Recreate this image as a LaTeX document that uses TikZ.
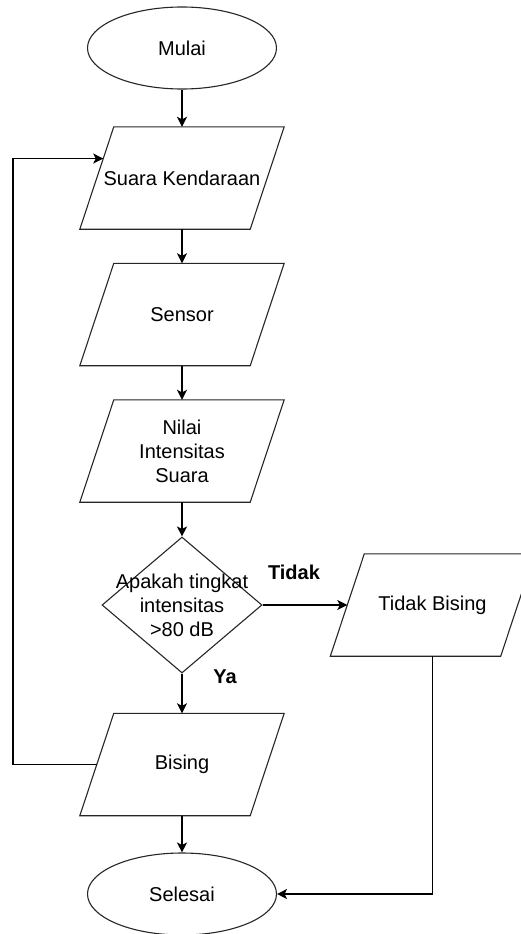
\documentclass[tikz,border=0pt]{standalone}
\usepackage{fontspec}
\setmainfont{Liberation Sans}
\usetikzlibrary{calc,shapes.geometric,arrows.meta}

\begin{document}
\begin{tikzpicture}[x=1pt,y=-1pt,
		forme/.style={draw=black!85, line width=1.1pt},
		texte/.style={font=\fontsize{20}{24}\selectfont, align=center},
		terminal/.style={forme, texte, ellipse, minimum width=189, minimum height=82, inner sep=0pt},
		donnee/.style={texte, minimum width=170, minimum height=102, inner sep=0pt},
		decision/.style={forme, diamond, minimum width=160, minimum height=136, inner sep=0pt},
		etiquette/.style={font=\fontsize{20}{24}\selectfont\bfseries},
		fleche/.style={line width=1.5pt, -{Stealth[length=10pt,width=10pt,inset=2.5pt]}}]
		% cadre de la figure (en pixels)
		\pgfmathsetmacro{\slant}{17} % decalage des cotes obliques
		\useasboundingbox (0,0) rectangle (521,934);

		% debut et fin
		\node[terminal] (mulai) at (182,48) {Mulai};
		\node[terminal] (selesai) at (182,894) {Selesai};

		% entrees / sorties : zones de texte, parallelogrammes dessines apres
		\node[donnee] (suara) at (182,178) {Suara Kendaraan};
		\node[donnee] (sensor) at (182,314.5) {Sensor};
		\node[donnee] (nilai) at (182,451) {Nilai\\Intensitas\\Suara};
		\node[donnee] (bising) at (182,764.5) {Bising};
		\node[donnee] (tidak) at (432.5,605) {Tidak Bising};

		% test
		\node[decision, label={[texte]center:Apakah tingkat\\intensitas\\>80 dB}] (test) at (182,605) {};

		% parallelogrammes autour des zones de texte
		\foreach \n in {suara,sensor,nilai,bising,tidak}{%
			\draw[forme] ([xshift=\slant]\n.north west) -- ([xshift=\slant]\n.north east)
				-- ([xshift=-\slant]\n.south east) -- ([xshift=-\slant]\n.south west) -- cycle;
		}

		% etiquettes des branches
		\node[etiquette] (lblTidak) at (294,572) {Tidak};
		\node[etiquette] (lblYa) at (225,677) {Ya};

		% fleches principales
		\draw[fleche] (mulai) -- (suara);
		\draw[fleche] (suara) -- (sensor);
		\draw[fleche] (sensor) -- (nilai);
		\draw[fleche] (nilai) -- (test);
		\draw[fleche] (test) -- (tidak);
		\draw[fleche] (test) -- (bising);
		\draw[fleche] (bising) -- (selesai);
		\draw[fleche] (tidak.south) |- (selesai.east);

		% retour vers l'entree
		\coordinate (entree) at ($([xshift=\slant]suara.north west)!0.31!([xshift=-\slant]suara.south west)$);
		\draw[fleche] (bising.west) -- ++(-84,0) |- (entree);
	\end{tikzpicture}
\end{document}
